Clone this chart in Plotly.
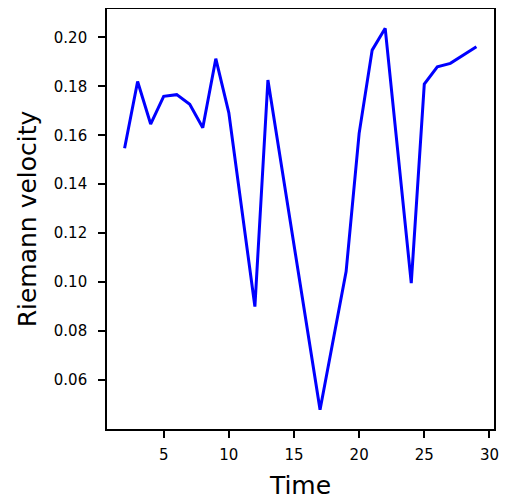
import plotly.graph_objects as go

time = [2, 3, 4, 5, 6, 7, 8, 9, 10, 12, 13, 17, 19, 20, 21, 22, 24, 25, 26, 27, 29]
riemann_velocity = [0.1547, 0.1820, 0.1646, 0.1759, 0.1766, 0.1727, 0.1631, 0.1913,
                    0.1692, 0.0900, 0.1826, 0.0479, 0.1043, 0.1608, 0.1948, 0.2037,
                    0.0996, 0.1809, 0.1880, 0.1894, 0.1962]
x_ticks = [5, 10, 15, 20, 25, 30]
y_ticks = [0.06, 0.08, 0.10, 0.12, 0.14, 0.16, 0.18, 0.20]

font = "DejaVu Sans"

fig = go.Figure(go.Scatter(x=time, y=riemann_velocity, mode="lines",
                           line=dict(color="#0000ff", width=3)))

axis_common = dict(showline=True, mirror=True, linecolor="black", linewidth=1.6,
                   ticks="outside", ticklen=7, tickwidth=1.6, tickcolor="black",
                   showgrid=False, zeroline=False,
                   tickfont=dict(family=font, size=15, color="black"))

fig.update_layout(
    width=500, height=496,
    margin=dict(l=99, r=14, t=1, b=75, autoexpand=False),
    paper_bgcolor="white", plot_bgcolor="white",
    showlegend=False,
    xaxis=dict(range=[0.65, 30.35], tickvals=x_ticks, ticklabelstandoff=4,
               title=dict(text="Time", font=dict(family=font, size=25, color="black"), standoff=14),
               **axis_common),
    yaxis=dict(range=[0.0400, 0.2116], tickvals=y_ticks, tickformat=".2f",
               ticklabelstandoff=8,
               title=dict(text="Riemann velocity", font=dict(family=font, size=25, color="black"), standoff=10),
               **axis_common),
)

fig.write_html("out.html")
